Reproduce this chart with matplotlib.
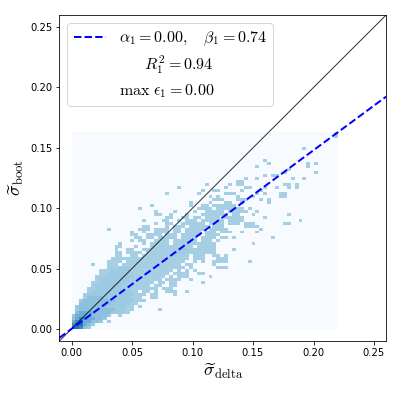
import matplotlib
matplotlib.use('Agg')
import matplotlib.pyplot as plt
import numpy as np
from matplotlib.colors import BoundaryNorm, ListedColormap

plt.rcParams['mathtext.fontset'] = 'cm'

# histogram extent and bin counts
x_range = [0.0, 0.22]
y_range = [0.0, 0.163]
n_x = 68
n_y = 66

# occupied cells, one string per row from the bottom: "first-last:level"
hist_rows = [
    "0-1:6 2:5 3:3 4:2",
    "0:5 1-2:6 3:4 4:3 5:2",
    "0:4 1-2:5 3-4:4 5-6:3 7:2 9",
    "0:3 1:4 2-3:5 4-5:4 6-7:3 8:2",
    "0:2 1-4:4 5-8:3 9:2 12",
    "1:3 2-5:4 6-9:3 10-12:2 13-14",
    "1:2 2-10:3 11-13:2 14-15 22",
    "1:2 2-8:3 9-13:2 14-15 17",
    "2-9:3 10-14:2 15-16",
    "2:2 3-10:3 11-15:2 16-18",
    "3 4-7:3 8-14:2 15-17 20-21",
    "3 4-9:2 10-15:2 16-18 20-21 26",
    "4 5-14:2 15-16 18-19 21 24-26 29",
    "4-5 6-12:2 13-17 18-21 23-25",
    "5 6-12:2 13-19 21-22 25-26",
    "5-6 7-13:2 14-20 22-23 25-26 33",
    "6 7-14:2 15-22 24-27 30",
    "6-7 8-15:2 16-23 25 27-29 35",
    "7-8 9-14:2 15-24 26-29 32-33",
    "7-9 10-14:2 15-25 27 29 31",
    "9-11 12-14:2 15-28 30 37-39",
    "5 9-11 13-16 17-27 29-30 36",
    "9-12 14-28 31 33 36-39 45",
    "10-12 13-29 31-33 37-39",
    "11-12 15-16 18-29 31-33 36-37 39",
    "11-12 14-17 19-25 26-28:2 29 30-36",
    "11 14-15 18-26 27-29:2 30-36 41",
    "11-12 16 20-24 25-30 32-36",
    "12 18 20-24 26-31 32-36 46",
    "15 17-18 21-24 26-31 33-35 37",
    "16-17 19-20 22-26 28-31 33-36 38-39 41 51",
    "15-16 19-22 24-26 28-32 34-37",
    "15 18 21-24 26-27 29-32 34-36 38-40 43 47",
    "9 17-19 21-24 26-27 29-33 35-39 48",
    "18-19 24 26-28 30-34 36-38 44-47",
    "21 24-25 28-33 35-38 40-42 44-46 54-55",
    "18 23-24 27 29-31 33-38 40-43 58",
    "24-25 28-29 31-32 34-37 39-43 49",
    "21-22 25 29 33-39 41-42 46 55",
    "21 26 31 34-38 40-44 47",
    "17 32-35 37-43 45",
    "20 30 33-34 36-41",
    "30 35 39-40 43 50",
    "36-38 42-44 48 50",
    "35 37 42 46 53-54",
    "24 32 39-41 47 49 53-54",
    "33 36-37 43 48",
    "27 39 44-45 49 52 55 57",
    "34 40 42-43 54-55 57",
    "42-43",
    "44 47 56 59",
    "49 51-52",
    "54 62",
    "55",
    "47 60",
    "50 60 62",
    "49",
    "",
    "",
    "",
    "59",
    "",
    "",
    "",
    "67",
    "67",
]

# fitted line and annotation values
alpha_1 = 0.00
beta_1 = 0.74
r2_1 = 0.94
max_eps_1 = 0.00

ticks = [0.00, 0.05, 0.10, 0.15, 0.20, 0.25]
level_colors = ['#f7fbff', '#a6cfe4', '#9ccae2', '#8cc0dd', '#6aaed6', '#3d8dc4', '#2070b4']


def read_rows(rows):
    grid = np.zeros((n_y, n_x))
    for r, text in enumerate(rows):
        for run in text.split():
            cols, _, level = run.partition(':')
            first, _, last = cols.partition('-')
            grid[r, int(first):int(last or first) + 1] = int(level or 1)
    return grid


grid = read_rows(hist_rows)
x_edges = np.linspace(x_range[0], x_range[1], n_x + 1)
y_edges = np.linspace(y_range[0], y_range[1], n_y + 1)

fig = plt.figure(figsize=(5.5, 5.5), dpi=72)
ax = fig.add_axes([0.15, 0.139, 0.825, 0.823])

cmap = ListedColormap(level_colors)
norm = BoundaryNorm(np.arange(-0.5, 7.5), cmap.N)
ax.pcolormesh(x_edges, y_edges, grid, cmap=cmap, norm=norm)

line_x = np.array([-0.01, 0.26])
ax.plot(line_x, line_x, color='k', lw=1, alpha=0.8)
ax.plot(line_x, alpha_1 + beta_1 * line_x, '--', color='b', lw=2,
        label=r'$\alpha_1=%.2f,\quad\beta_1=%.2f$' % (alpha_1, beta_1))
ax.plot([], [], ' ', label=r'$\quad\ \ \,R_1^2=%.2f$' % r2_1)
ax.plot([], [], ' ', label=r'$\max\ \epsilon_1=%.2f$' % max_eps_1)

ax.set_xlim(-0.01, 0.26)
ax.set_ylim(-0.01, 0.26)
ax.set_xticks(ticks)
ax.set_yticks(ticks)
ax.tick_params(labelsize=10)
ax.set_xlabel(r'$\widetilde{\sigma}_{\rm delta}$', fontsize=18)
ax.set_ylabel(r'$\widetilde{\sigma}_{\rm boot}$', fontsize=18)
ax.legend(loc='upper left', fontsize=16, labelspacing=0.36, handlelength=2.0)

fig.savefig('out.png', dpi=72)
